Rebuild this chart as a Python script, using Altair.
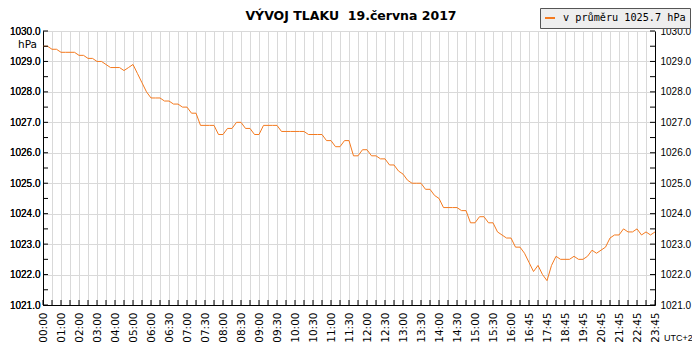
import altair as alt
import pandas as pd

# x tick labels (every 4th sample)
time_labels = ["00:00", "01:00", "02:00", "03:00", "04:00", "05:00", "06:00", "06:30",
               "07:00", "07:30", "08:00", "08:30", "09:00", "09:30", "10:00", "10:30",
               "11:00", "11:30", "12:00", "12:30", "13:00", "13:30", "14:00", "14:30",
               "15:00", "15:30", "16:00", "16:45", "17:45", "18:45", "19:45", "20:45",
               "21:45", "22:45", "23:45"]

# pressure samples (hPa), in order
pressure = [
    1029.5, 1029.5, 1029.4, 1029.4, 1029.3, 1029.3, 1029.3, 1029.3, 1029.2, 1029.2,
    1029.1, 1029.1, 1029.0, 1029.0, 1028.9, 1028.8, 1028.8, 1028.8, 1028.7, 1028.8,
    1028.9, 1028.6, 1028.3, 1028.0, 1027.8, 1027.8, 1027.8, 1027.7, 1027.7, 1027.6,
    1027.6, 1027.5, 1027.5, 1027.3, 1027.3, 1026.9, 1026.9, 1026.9, 1026.9, 1026.6,
    1026.6, 1026.8, 1026.8, 1027.0, 1027.0, 1026.8, 1026.8, 1026.6, 1026.6, 1026.9,
    1026.9, 1026.9, 1026.9, 1026.7, 1026.7, 1026.7, 1026.7, 1026.7, 1026.7, 1026.6,
    1026.6, 1026.6, 1026.6, 1026.4, 1026.4, 1026.2, 1026.2, 1026.4, 1026.4, 1025.9,
    1025.9, 1026.1, 1026.1, 1025.9, 1025.9, 1025.8, 1025.8, 1025.6, 1025.6, 1025.4,
    1025.3, 1025.1, 1025.0, 1025.0, 1025.0, 1024.8, 1024.8, 1024.6, 1024.5, 1024.2,
    1024.2, 1024.2, 1024.2, 1024.1, 1024.1, 1023.7, 1023.7, 1023.9, 1023.9, 1023.7,
    1023.7, 1023.4, 1023.3, 1023.2, 1023.2, 1022.9, 1022.9, 1022.7, 1022.4, 1022.1,
    1022.3, 1022.0, 1021.8, 1022.3, 1022.6, 1022.5, 1022.5, 1022.5, 1022.6, 1022.5,
    1022.5, 1022.6, 1022.8, 1022.7, 1022.8, 1022.9, 1023.2, 1023.3, 1023.3, 1023.5,
    1023.4, 1023.4, 1023.5, 1023.3, 1023.4, 1023.3, 1023.4,
]

legend_label = "v průměru 1025.7 hPa"
title_text = "VÝVOJ TLAKU\u00a0 19.června 2017"
y_major = [1021, 1022, 1023, 1024, 1025, 1026, 1027, 1028, 1029, 1030]
y_minor = [1021 + 0.5 * k for k in range(19)]

n = len(pressure)
x_ticks = list(range(0, n, 2))

W, H = 612, 274
LINE = "#f47a1f"
GRID = "#d9d9d9"
FONT = "DejaVu Sans"
NUMFONT = "Liberation Sans"

df = pd.DataFrame({"i": list(range(n)), "p": pressure, "s": [legend_label] * n})

xscale = alt.Scale(domain=[0, n - 1], nice=False, zero=False)
yscale = alt.Scale(domain=[1021, 1030], nice=False, zero=False)

lab_js = "[" + ",".join("'" + t + "'" for t in time_labels) + "]"

x_axis = alt.Axis(values=x_ticks, grid=True, gridColor=GRID, gridWidth=1, orient="bottom",
                  ticks=False, domainColor="black", labelAngle=-90,
                  labelExpr=f"datum.value % 4 == 0 ? {lab_js}[datum.value / 4] : ''",
                  labelPadding=7, labelFont=FONT, labelFontSize=10.5, labelColor="black",
                  labelOverlap=False, labelBound=False, title=None)

y_left = alt.Axis(values=y_major, grid=True, gridColor=GRID, gridWidth=1, ticks=False,
                  domainColor="black", format=".1f", labelPadding=3, labelFont=NUMFONT,
                  labelFontSize=10, labelColor="black", title=None, orient="left")

y_right = alt.Axis(values=y_major, grid=False, ticks=False, domainColor="black",
                   format=".1f", labelPadding=5, labelFont=NUMFONT, labelFontSize=10,
                   labelColor="black", title=None, orient="right")

line = alt.Chart(df).mark_line(strokeWidth=1, interpolate="linear").encode(
    x=alt.X("i:Q", scale=xscale, axis=x_axis),
    y=alt.Y("p:Q", scale=yscale, axis=y_left),
    color=alt.Color("s:N", scale=alt.Scale(range=[LINE]),
                    legend=alt.Legend(title=None, orient="none", legendX=497, legendY=-23,
                                      fillColor="#eeeeee", strokeColor="#555555",
                                      padding=4, symbolType="stroke", symbolStrokeWidth=2,
                                      symbolSize=100, symbolOffset=0, labelOffset=7,
                                      labelFont="DejaVu Sans Mono", labelFontSize=10.2,
                                      labelColor="black")),
)

ydf = pd.DataFrame({"v": y_minor})
xdf = pd.DataFrame({"i": x_ticks})

lt = alt.Chart(ydf).mark_rule(color="black", strokeWidth=1).encode(
    y=alt.Y("v:Q", scale=yscale, axis=y_left), x=alt.value(0), x2=alt.value(5))
rt = alt.Chart(ydf).mark_rule(color="black", strokeWidth=1).encode(
    y=alt.Y("v:Q", scale=yscale, axis=y_right), x=alt.value(W - 5), x2=alt.value(W))
bt = alt.Chart(xdf).mark_rule(color="black", strokeWidth=1).encode(
    x=alt.X("i:Q", scale=xscale, axis=x_axis), y=alt.value(H - 5), y2=alt.value(H))

hpa = alt.Chart(pd.DataFrame({"t": ["hPa"]})).mark_text(
    align="right", baseline="alphabetic", font=FONT, fontSize=10.5, color="black"
).encode(text="t:N", x=alt.value(-6), y=alt.value(17))

utc = alt.Chart(pd.DataFrame({"t": ["UTC+2"]})).mark_text(
    align="left", baseline="alphabetic", font=NUMFONT, fontSize=9, color="black"
).encode(text="t:N", x=alt.value(621), y=alt.value(310))

ttl = alt.Chart(pd.DataFrame({"t": [title_text]})).mark_text(
    align="center", baseline="middle", font=FONT, fontSize=12.5, fontWeight="bold",
    color="black"
).encode(text="t:N", x=alt.value(308), y=alt.value(-15))

chart = alt.layer(line, lt, bt, rt, hpa, utc, ttl).resolve_axis(
    y="independent"
).properties(
    width=W, height=H,
    autosize=alt.AutoSizeParams(type="none"),
    padding={"left": 35, "top": 23, "right": 37, "bottom": 37},
).configure_view(stroke=None).configure(background="white")

chart.save("out.html", embed_options={"renderer": "svg", "actions": False})
